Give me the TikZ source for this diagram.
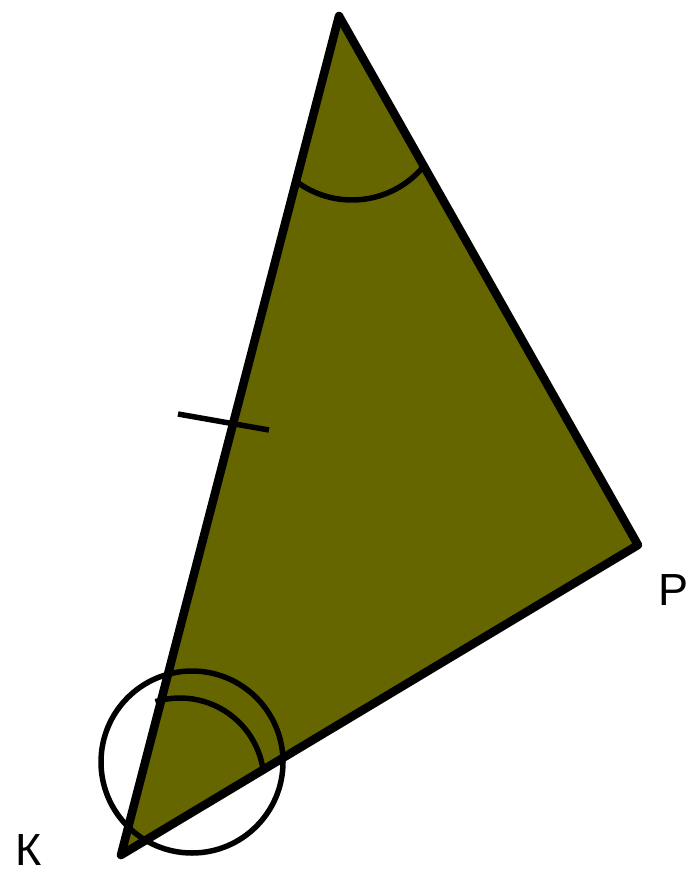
\documentclass[tikz,border=0pt]{standalone}
\usepackage{fontspec}
\setmainfont{Liberation Sans}
\begin{document}
\begin{tikzpicture}[x=1pt,y=-1pt,
  tri/.style={draw=black,line width=8.5pt,line join=round,fill=olivefill},
  markline/.style={draw=black,line width=5.5pt},
  lbl/.style={font=\fontsize{45}{45}\selectfont,inner sep=0pt}]
\definecolor{olivefill}{HTML}{666600}
\useasboundingbox (0,0) rectangle (689,874);
\coordinate (T) at (339,16);
\coordinate (P) at (638,545);
\coordinate (K) at (121,855);
\filldraw[tri] (T) -- (P) -- (K) -- cycle;
% angle arc at T
\coordinate (TA) at (352,107);
\draw[markline] (TA) ++(125:93) arc[start angle=125, end angle=40, radius=93];
% tick on KT
\coordinate (t1) at (178,414);
\coordinate (t2) at (269,430);
\draw[markline] (t1) -- (t2);
% angle arc at K
\coordinate (KA) at (180,782);
\draw[markline] (KA) ++(-107:84) arc[start angle=-107, end angle=-10, radius=84];
% circle
\node[draw=black,line width=5.5pt,circle,minimum size=182pt,inner sep=0pt] (C) at (192,762) {};
\node[lbl] (lK) at (29,850) {К};
\node[lbl] (lP) at (673,590) {P};
\end{tikzpicture}
\end{document}
